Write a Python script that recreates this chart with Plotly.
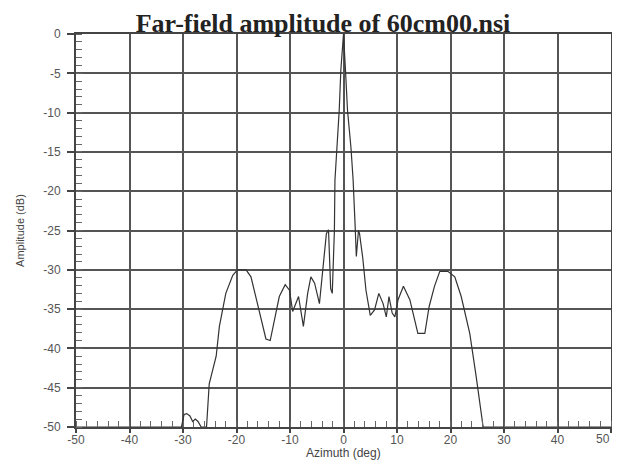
import plotly.graph_objects as go

# Azimuth (deg) and amplitude (dB)
azimuth = [-50, -30.3, -29.8, -29.3, -28.7, -28.2, -27.7, -27.2, -26.6, -25.6, -25.1,
           -24.5, -23.8, -23.2, -22.0, -20.7, -19.8, -18.2, -17.3, -16.4, -15.1,
           -14.5, -13.7, -12.9, -12.0, -10.9, -10.1, -9.5, -8.9, -8.4, -7.5,
           -6.7, -6.1, -5.4, -4.5, -3.7, -3.2, -2.8, -2.4, -2.1, -1.7,
           -1.6, -1.2, -0.8, -0.5, 0.0, 0.37, 0.75, 1.4, 1.8, 2.15,
           2.4, 2.8, 3.0, 3.6, 4.2, 5.0, 5.8, 6.6, 7.4, 8.0,
           8.5, 9.1, 9.6, 10.2, 11.2, 12.4, 13.9, 15.2, 16.0, 17.0,
           18.0, 19.5, 20.8, 22.0, 23.6, 24.8, 25.8, 26.1, 50]
amplitude = [-50, -50, -48.4, -48.3, -48.6, -49.3, -49.0, -49.3, -50, -50, -44.5,
             -42.8, -41.0, -37.2, -33.0, -30.7, -30.0, -30.0, -30.9, -33.4, -37.2,
             -38.8, -39.0, -36.4, -33.4, -31.9, -32.6, -35.3, -34.3, -33.4, -37.2,
             -33.0, -30.9, -31.7, -34.3, -29.2, -25.4, -24.9, -32.4, -33.0, -25.0,
             -18.6, -14.5, -9.7, -4.6, 0.0, -4.6, -9.7, -14.5, -18.6, -24.0,
             -28.3, -25.0, -25.4, -28.5, -32.6, -35.8, -35.1, -33.0, -34.3, -36.0,
             -33.4, -35.5, -36.0, -33.8, -32.1, -33.8, -38.1, -38.1, -34.7, -32.1,
             -30.2, -30.2, -30.9, -33.4, -38.1, -43.6, -49.1, -50, -50]

x_ticks = [-50, -40, -30, -20, -10, 0, 10, 20, 30, 40, 50]
y_ticks = [0, -5, -10, -15, -20, -25, -30, -35, -40, -45, -50]

W, H = 604, 454  # page body adds an 8px margin inside the 620x470 window
PLOT_H = H - 26 - 35
PLOT_W = W - 68 - 1
grid = "#555555"
fig = go.Figure()
fig.add_trace(go.Scatter(x=azimuth, y=amplitude, mode="lines",
                         line=dict(color="#333333", width=1.2), showlegend=False))

# last x tick label would be clipped at the page edge: draw it right-aligned
x_text = [str(v) for v in x_ticks]
last_label = x_text[-1]
x_text[-1] = ""

fig.update_layout(
    width=W, height=H,
    margin=dict(l=68, r=1, t=26, b=35, autoexpand=False),
    paper_bgcolor="white", plot_bgcolor="white",
    title=dict(text="<b>Far-field amplitude of 60cm00.nsi</b>",
               font=dict(family="Liberation Serif", size=26, color="#222"),
               x=315/W, xref="container", xanchor="center",
               y=1-15/H, yref="container", yanchor="middle"),
    font=dict(family="Liberation Sans", size=12, color="#555"),
    annotations=[
        dict(text="Azimuth (deg)", xref="paper", yref="paper",
             x=0.5, y=-26/PLOT_H, xanchor="center", yanchor="middle",
             showarrow=False, font=dict(size=12, color="#444")),
        dict(text=last_label, xref="paper", yref="paper",
             x=1 + 1/PLOT_W, y=-12/PLOT_H, xanchor="right", yanchor="middle",
             showarrow=False, font=dict(size=12, color="#555")),
    ],
)
fig.update_xaxes(range=[-50, 50], tickvals=x_ticks, ticktext=x_text,
                 showgrid=True, gridcolor=grid, gridwidth=1.8,
                 showline=True, linecolor="#444", linewidth=1.8, mirror=True,
                 ticks="outside", ticklen=4, tickcolor="#444", tickwidth=1.5,
                 ticklabelstandoff=-3,
                 minor=dict(dtick=2, ticks="inside", ticklen=6, tickcolor="#666",
                            tickwidth=1.2, showgrid=False),
                 zeroline=False, automargin=False,
                 tickfont=dict(size=12, color="#555"))
fig.update_yaxes(range=[-50, 0], tickvals=y_ticks, ticktext=[str(v) for v in y_ticks],
                 showgrid=True, gridcolor=grid, gridwidth=1.8,
                 showline=True, linecolor="#444", linewidth=1.8, mirror=True,
                 ticks="outside", ticklen=7, tickcolor="#444", tickwidth=1.5,
                 ticklabelstandoff=4,
                 minor=dict(dtick=1, ticks="inside", ticklen=6, tickcolor="#666",
                            tickwidth=1.2, showgrid=False),
                 zeroline=False, automargin=False,
                 title=dict(text="Amplitude (dB)", font=dict(size=11, color="#444"), standoff=17),
                 tickfont=dict(size=12, color="#555"))

fig.write_html("out.html")
